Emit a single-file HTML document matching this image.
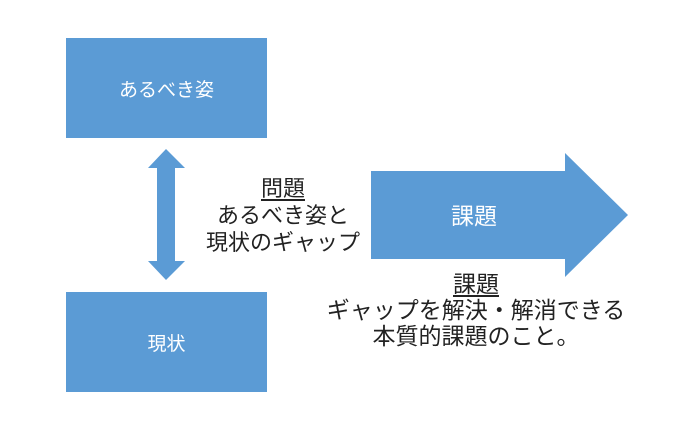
<!DOCTYPE html>
<html><head><meta charset="utf-8"><style>
body{margin:0;width:700px;height:430px;background:#fff;position:relative;overflow:hidden;font-family:"Liberation Sans","Noto Sans CJK JP",sans-serif}
.b{position:absolute;background:#5b9bd5;color:#fff;display:flex;align-items:center;justify-content:center;font-size:19px}
.t{position:absolute;color:#222;text-align:center;white-space:nowrap}
u{text-underline-offset:3px}
</style></head><body>
<div class="b" style="left:66px;top:38px;width:201px;height:100px">あるべき姿</div>
<div class="b" style="left:66px;top:292px;width:201px;height:100px">現状</div>
<svg style="position:absolute;left:0;top:0" width="700" height="430">
<polygon points="166,149 185,168 175,168 175,261 185,261 166,280 148,261 157,261 157,168 148,168" fill="#5b9bd5"/>
<polygon points="371,171 565,171 565,153 628,215 565,277 565,259 371,259" fill="#5b9bd5"/>
<text x="474" y="224" fill="#fff" font-size="23" text-anchor="middle" font-family="Liberation Sans, Noto Sans CJK JP, sans-serif">課題</text>
</svg>
<div class="t" style="left:176px;width:214px;top:175px;font-size:22px;line-height:27px"><u>問題</u><br>あるべき姿と<br>現状のギャップ</div>
<div class="t" style="left:306px;width:340px;top:271px;font-size:23px;line-height:26px"><u>課題</u><br>ギャップを解決・解消できる<br>本質的課題のこと。</div>
</body></html>
